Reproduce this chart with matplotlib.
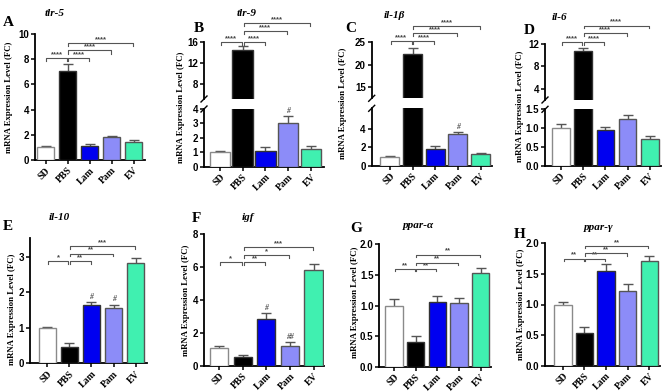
import matplotlib
matplotlib.use("Agg")
import matplotlib.pyplot as plt
from matplotlib.ticker import FormatStrFormatter
import numpy as np

plt.rcParams['font.family'] = 'Liberation Sans'
plt.rcParams['font.weight'] = 'bold'

groups = ["SD", "PBS", "Lam", "Pam", "EV"]
bar_colors = ["#ffffff", "#000000", "#0000f0", "#8c8cf8", "#40f0b0"]
edge_colors = ["#8a8a8a", "#333333", "#333333", "#555555", "#555555"]

# comparisons drawn as brackets: SD-PBS, PBS-Lam, PBS-Pam, PBS-EV
pairs = [(0, 1), (1, 2), (1, 3), (1, 4)]

tlr5_mean = [1.0, 7.1, 1.13, 1.85, 1.42]
tlr5_err = [0.08, 0.52, 0.12, 0.08, 0.17]
tlr5_sig = ["****", "****", "****", "****"]

tlr9_mean = [1.0, 14.5, 1.11, 3.0, 1.23]
tlr9_err = [0.08, 0.7, 0.27, 0.52, 0.21]
tlr9_sig = ["****", "****", "****", "****"]
tlr9_hash = ["", "", "", "#", ""]

il1b_mean = [1.0, 22.3, 1.85, 3.5, 1.25]
il1b_err = [0.06, 1.5, 0.25, 0.2, 0.15]
il1b_sig = ["****", "****", "****", "****"]
il1b_hash = ["", "", "", "#", ""]

il6_mean = [1.0, 10.8, 0.94, 1.24, 0.72]
il6_err = [0.1, 0.55, 0.08, 0.1, 0.07]
il6_sig = ["****", "****", "****", "****"]

il10_mean = [1.0, 0.47, 1.64, 1.55, 2.84]
il10_err = [0.03, 0.09, 0.08, 0.11, 0.12]
il10_sig = ["*", "**", "**", "***"]
il10_hash = ["", "", "#", "#", ""]

igf_mean = [1.06, 0.55, 2.82, 1.22, 5.82]
igf_err = [0.12, 0.12, 0.36, 0.22, 0.35]
igf_sig = ["*", "**", "*", "***"]
igf_hash = ["", "", "#", "##", ""]

ppara_mean = [1.0, 0.41, 1.06, 1.04, 1.53]
ppara_err = [0.1, 0.09, 0.1, 0.08, 0.08]
ppara_sig = ["**", "**", "**", "**"]

pparg_mean = [1.0, 0.53, 1.55, 1.22, 1.71]
pparg_err = [0.04, 0.1, 0.11, 0.12, 0.09]
pparg_sig = ["**", "**", "**", "**"]

W, H = 668, 392
fig = plt.figure(figsize=(W / 100, H / 100), dpi=100)
GREY = "#555555"


def add_ax(l, r, t, b):
    # axes box given in pixels of the final picture
    return fig.add_axes([l / W, 1 - b / H, (r - l) / W, (b - t) / H])


def style_ax(ax, xlim, yticks, bottom=True, fmt=None):
    ax.spines['top'].set_visible(False)
    ax.spines['right'].set_visible(False)
    ax.spines['left'].set_linewidth(1.3)
    ax.spines['bottom'].set_linewidth(1.3)
    ax.set_xlim(xlim)
    ax.set_yticks(yticks)
    if fmt:
        ax.yaxis.set_major_formatter(FormatStrFormatter(fmt))
    ax.tick_params(axis='both', direction='out', length=3, width=1.1, labelsize=7, pad=1.2)
    ax.set_xticks(range(len(groups)))
    if bottom:
        ax.set_xticklabels(groups, rotation=45, ha='right', rotation_mode='anchor',
                           fontsize=7, family='Liberation Serif', fontweight='bold')
    else:
        ax.spines['bottom'].set_visible(False)
        ax.tick_params(axis='x', bottom=False, labelbottom=False)


def draw_bars(ax, mean, err, width):
    x = np.arange(len(groups))
    ax.errorbar(x, mean, yerr=err, fmt='none', ecolor=GREY, elinewidth=1,
                capsize=3.5, capthick=1, zorder=2)
    ax.bar(x, mean, width=width, color=bar_colors, edgecolor=edge_colors,
           linewidth=1, zorder=3)


def brackets(ax, ys, labels, h):
    for (i, j), y, lab in zip(pairs, ys, labels):
        x1, x2 = i + 0.04, j - 0.04
        ax.plot([x1, x1, x2, x2], [y - h, y, y, y - h], color=GREY, lw=0.8,
                clip_on=False, zorder=4)
        ax.text((i + j) / 2, y, lab, ha='center', va='bottom', fontsize=5.5,
                color="#444444", clip_on=False)


def hashes(ax, mean, err, labels, pad):
    for i, lab in enumerate(labels):
        if lab:
            ax.text(i, mean[i] + err[i] + pad, lab, ha='center', va='bottom',
                    fontsize=5.5, color=GREY, family='Liberation Serif', style='italic')


def break_marks(ax_top, ax_bot):
    for ax, y in [(ax_top, 0), (ax_bot, 1)]:
        bb = ax.get_position()
        dx = 3 / (bb.width * W)
        dy = 3 / (bb.height * H)
        ax.plot([-dx, dx], [y - dy, y + dy], transform=ax.transAxes, color='k',
                lw=1, clip_on=False)


def labels(letter, lx, ly, title, tx, ty, yx, yy):
    fig.text(lx / W, 1 - ly / H, letter, fontsize=11, family='Liberation Serif',
             fontweight='bold', ha='left', va='center')
    fig.text(tx / W, 1 - ty / H, title, fontsize=8, family='Liberation Serif',
             fontweight='bold', style='italic', ha='center', va='center')
    fig.text(yx / W, 1 - yy / H, "mRNA Expression Level (FC)", rotation=90,
             fontsize=6.3, family='Liberation Serif', fontweight='bold',
             ha='center', va='center')


# A  tlr-5
ax = add_ax(35, 145, 34, 160)
draw_bars(ax, tlr5_mean, tlr5_err, 0.77)
ax.set_ylim(0, 10)
style_ax(ax, (-0.48, 4.52), [0, 2, 4, 6, 8, 10])
brackets(ax, [8.1, 8.1, 8.7, 9.3], tlr5_sig, 0.25)
labels("A", 3, 23, "tlr-5", 55, 14, 9, 97)

# B  tlr-9 (broken axis)
ax_t = add_ax(204, 323.5, 42.3, 99)
ax_b = add_ax(204, 323.5, 109, 166.7)
for a in (ax_t, ax_b):
    draw_bars(a, tlr9_mean, tlr9_err, 0.9)
ax_t.set_ylim(5, 16)
ax_b.set_ylim(0, 4)
style_ax(ax_t, (-0.7, 4.55), [8, 12, 16], bottom=False)
style_ax(ax_b, (-0.7, 4.55), [0, 1, 2, 3, 4])
break_marks(ax_t, ax_b)
brackets(ax_t, [16.05, 16.05, 18.1, 19.7], tlr9_sig, 0.5)
hashes(ax_b, tlr9_mean, tlr9_err, tlr9_hash, 0.05)
labels("B", 194, 29, "tlr-9", 247, 13, 181, 107)

# C  il-1b (broken axis)
ax_t = add_ax(371.7, 492, 42.3, 98.3)
ax_b = add_ax(371.7, 492, 108.3, 165.7)
for a in (ax_t, ax_b):
    draw_bars(a, il1b_mean, il1b_err, 0.84)
ax_t.set_ylim(12.5, 25)
ax_b.set_ylim(0, 6.25)
style_ax(ax_t, (-0.8, 4.5), [15, 20, 25], bottom=False)
style_ax(ax_b, (-0.8, 4.5), [0, 2, 4])
break_marks(ax_t, ax_b)
brackets(ax_t, [25.3, 25.3, 27.0, 28.6], il1b_sig, 0.6)
hashes(ax_b, il1b_mean, il1b_err, il1b_hash, 0.1)
labels("C", 345, 29, "il-1\u03b2", 394, 16, 343, 103)

# D  il-6 (broken axis)
ax_t = add_ax(545, 661, 44, 100)
ax_b = add_ax(545, 661, 109.3, 165.7)
for a in (ax_t, ax_b):
    draw_bars(a, il6_mean, il6_err, 0.79)
ax_t.set_ylim(2, 12)
ax_b.set_ylim(0, 1.5)
style_ax(ax_t, (-0.71, 4.5), [4, 8, 12], bottom=False)
style_ax(ax_b, (-0.71, 4.5), [0, 0.5, 1.0, 1.5], fmt='%.1f')
break_marks(ax_t, ax_b)
brackets(ax_t, [12.4, 12.4, 13.9, 15.3], il6_sig, 0.5)
labels("D", 524, 31, "il-6", 560, 17, 520, 106)

# E  il-10
ax = add_ax(30, 146.7, 238.3, 363.3)
draw_bars(ax, il10_mean, il10_err, 0.79)
ax.set_ylim(0, 3.53)
style_ax(ax, (-0.78, 4.5), [0, 1, 2, 3])
brackets(ax, [2.89, 2.89, 3.1, 3.31], il10_sig, 0.08)
hashes(ax, il10_mean, il10_err, il10_hash, 0.03)
labels("E", 3, 227, "il-10", 59, 217, 12, 309)

# F  igf
ax = add_ax(204.3, 324.2, 234.3, 365.7)
draw_bars(ax, igf_mean, igf_err, 0.77)
ax.set_ylim(0, 8)
style_ax(ax, (-0.63, 4.45), [0, 2, 4, 6, 8])
brackets(ax, [6.32, 6.32, 6.73, 7.23], igf_sig, 0.17)
hashes(ax, igf_mean, igf_err, igf_hash, 0.08)
labels("F", 192, 218, "igf", 248, 217, 186, 300)

# G  ppar-alpha
ax = add_ax(379.3, 491.5, 244.3, 366.7)
draw_bars(ax, ppara_mean, ppara_err, 0.8)
ax.set_ylim(0, 2)
style_ax(ax, (-0.67, 4.5), [0, 0.5, 1.0, 1.5, 2.0], fmt='%.1f')
brackets(ax, [1.6, 1.6, 1.7, 1.83], ppara_sig, 0.04)
labels("G", 350, 228, "ppar-\u03b1", 418, 225, 355, 302)

# H  ppar-gamma
ax = add_ax(545, 660, 243.3, 365.7)
draw_bars(ax, pparg_mean, pparg_err, 0.8)
ax.set_ylim(0, 2)
style_ax(ax, (-0.83, 4.5), [0, 0.5, 1.0, 1.5, 2.0], fmt='%.1f')
brackets(ax, [1.75, 1.75, 1.84, 1.96], pparg_sig, 0.04)
labels("H", 514, 235, "ppar-\u03b3", 599, 227, 521, 304)

fig.savefig("out.png", dpi=100)
